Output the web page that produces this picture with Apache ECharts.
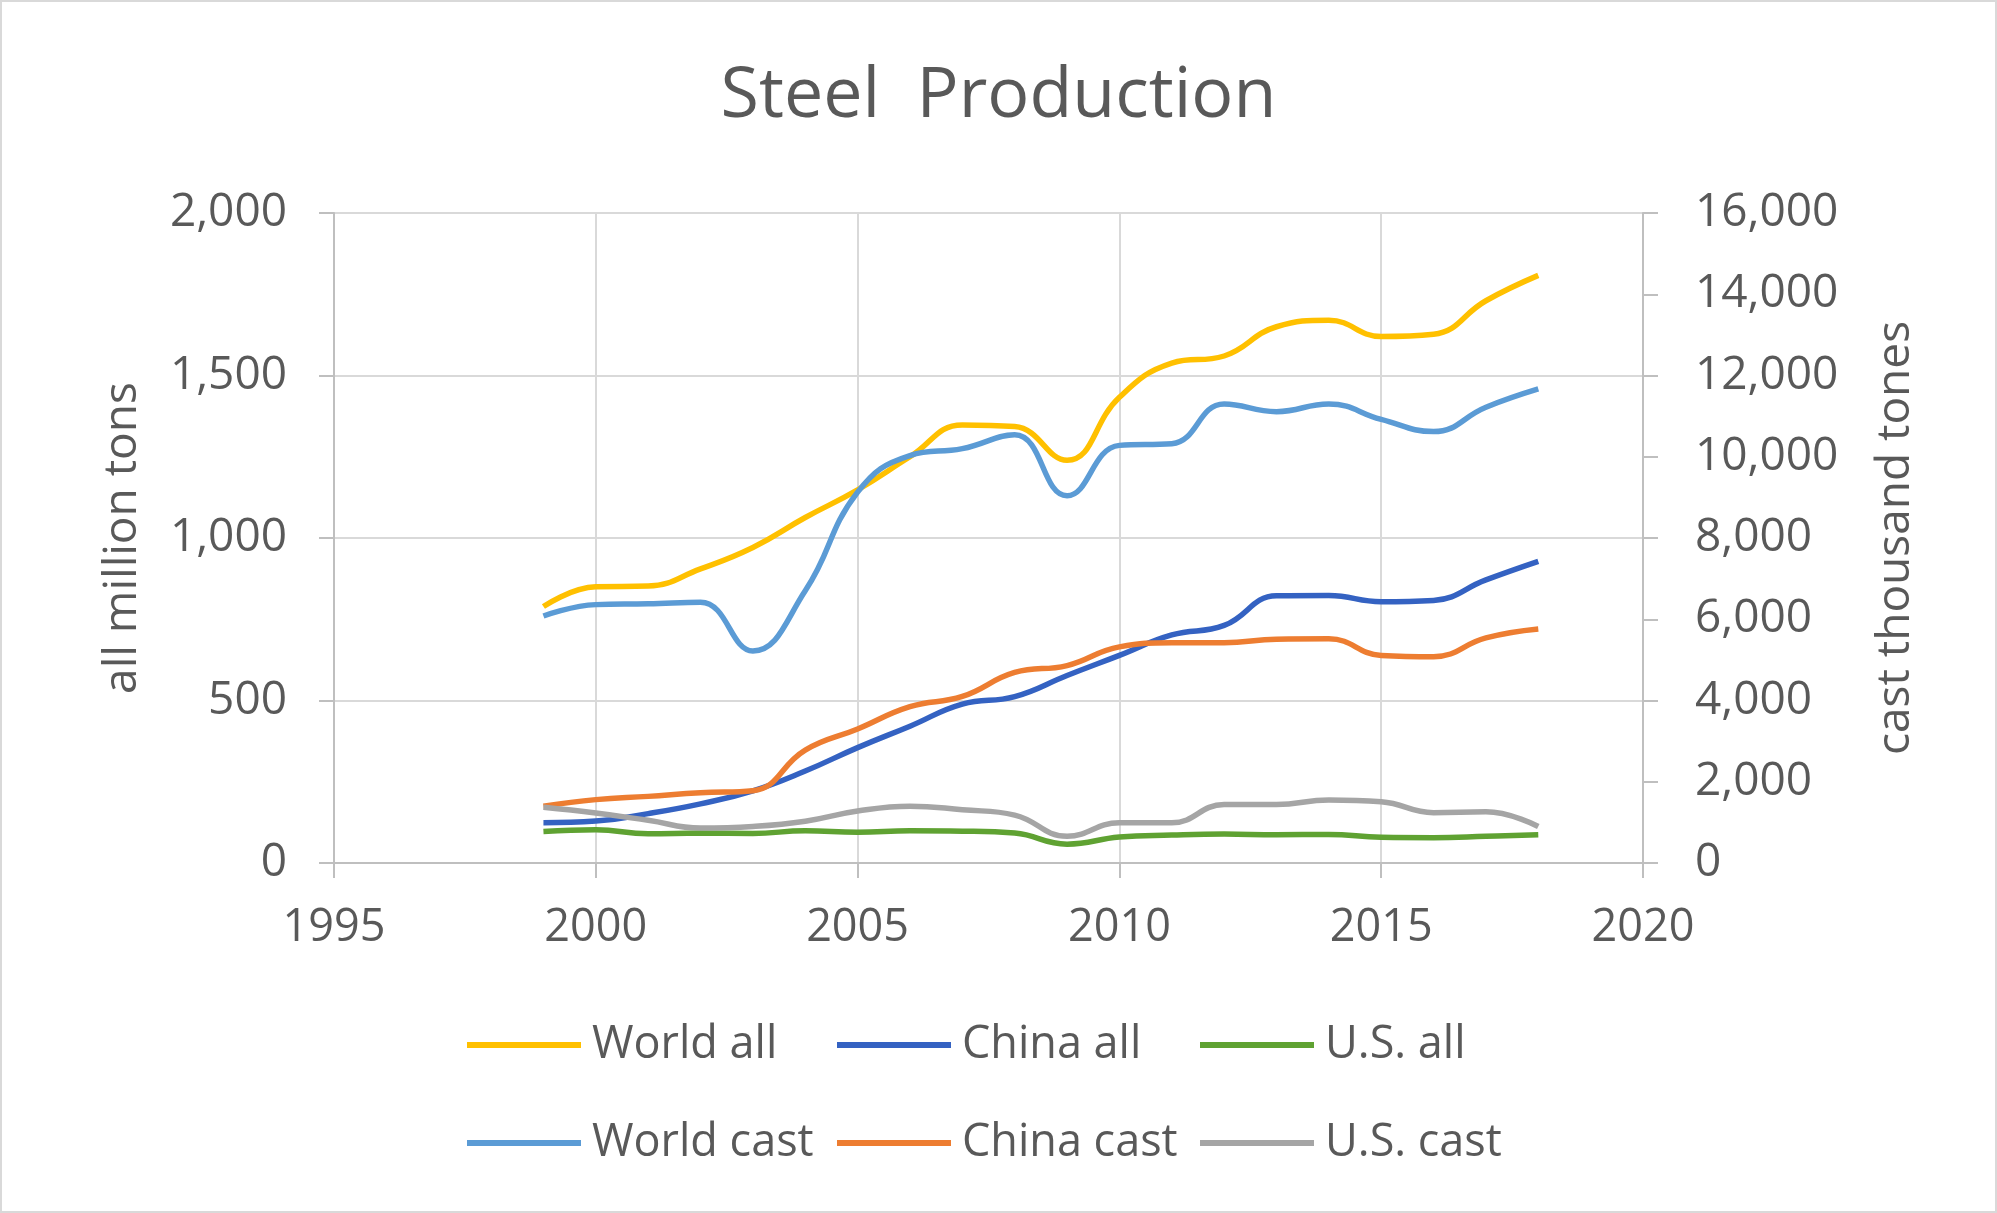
<!DOCTYPE html>
<html>
<head>
<meta charset="utf-8">
<script src="https://cdn.jsdelivr.net/npm/echarts@6/dist/echarts.min.js"></script>
<style>
html,body{margin:0;padding:0;background:#fff;}
#wrap{position:absolute;left:0;top:0;width:1993px;height:1209px;border:2px solid #d9d9d9;}
#chart{width:1993px;height:1209px;}
</style>
</head>
<body>
<div id="wrap"><div id="chart"></div></div>
<script>
const years = [1999,2000,2001,2002,2003,2004,2005,2006,2007,2008,2009,2010,2011,2012,2013,2014,2015,2016,2017,2018];
const worldAll = [789,850,852,905,971,1063,1148,1250,1348,1343,1239,1433,1538,1560,1650,1670,1620,1627,1730,1808];
const chinaAll = [124,129,152,182,222,283,355,421,489,512,577,639,702,731,822,823,804,808,871,928];
const usAll = [97,102,90,92,91,99,95,99,98,92,58,80,86,89,87,88,79,78,82,87];
const worldCast = [6080,6360,6380,6420,5220,6700,9130,10030,10200,10540,9040,10280,10320,11300,11110,11300,10920,10620,11220,11670];
const chinaCast = [1400,1560,1640,1730,1780,2780,3300,3850,4100,4690,4860,5320,5420,5420,5510,5520,5110,5080,5540,5760];
const usCast = [1370,1230,1050,860,900,1030,1280,1400,1310,1180,660,990,990,1440,1440,1550,1510,1240,1260,900];
const xTicks = [1995,2000,2005,2010,2015,2020];
const leftTicks = [0,500,1000,1500,2000];
const rightTicks = [0,2000,4000,6000,8000,10000,12000,14000,16000];

const FONT = '"Open Sans", "Noto Sans", sans-serif';
const TXT = '#595959';
const pairs = arr => years.map((y,i)=>[y,arr[i]]);
const fmt = v => Number(v).toLocaleString('en-US');

function mk(name, data, color, yIdx){
  return {name, type:'line', yAxisIndex:yIdx, data:pairs(data), smooth:0.45,
    symbol:'none', lineStyle:{width:5.5, color}, itemStyle:{color}, z: 3};
}
const legendCommon = {orient:'vertical', top:1013, itemGap:48, itemWidth:114, itemHeight:6, icon:'rect',
  textStyle:{fontFamily:FONT, fontSize:45, color:TXT, lineHeight:50, padding:[0,0,0,6]}};

const chart = echarts.init(document.getElementById('chart'));
chart.setOption({
  backgroundColor:'#fff',
  animation:false,
  title:{text:'Steel  Production', left:'center', top:55,
    textStyle:{fontFamily:FONT, fontSize:70, fontWeight:'normal', color:TXT}},
  grid:{left:332, right:352, top:211, bottom:348},
  xAxis:{type:'value', min:xTicks[0], max:xTicks[xTicks.length-1], interval:5,
    axisLine:{show:true, lineStyle:{color:'#bfbfbf', width:2}},
    axisTick:{show:true, length:15, lineStyle:{color:'#bfbfbf', width:2}},
    axisLabel:{fontFamily:FONT, fontSize:45, color:TXT, margin:43, formatter:v=>String(v)},
    splitLine:{show:true, lineStyle:{color:'#d9d9d9', width:2}}},
  yAxis:[
    {type:'value', min:leftTicks[0], max:leftTicks[leftTicks.length-1], interval:500, position:'left',
     name:'all million tons', nameLocation:'middle', nameGap:188, nameRotate:90,
     nameTextStyle:{fontFamily:FONT, fontSize:46, color:TXT},
     axisLine:{show:true, lineStyle:{color:'#bfbfbf', width:2}},
     axisTick:{show:true, length:15, lineStyle:{color:'#bfbfbf', width:2}},
     axisLabel:{fontFamily:FONT, fontSize:46, color:TXT, margin:47, formatter:fmt},
     splitLine:{show:true, lineStyle:{color:'#d9d9d9', width:2}}},
    {type:'value', min:rightTicks[0], max:rightTicks[rightTicks.length-1], interval:2000, position:'right',
     name:'cast thousand tones', nameLocation:'middle', nameGap:230, nameRotate:90,
     nameTextStyle:{fontFamily:FONT, fontSize:46, color:TXT},
     axisLine:{show:true, lineStyle:{color:'#bfbfbf', width:2}},
     axisTick:{show:true, length:15, lineStyle:{color:'#bfbfbf', width:2}},
     axisLabel:{fontFamily:FONT, fontSize:46, color:TXT, margin:52, formatter:fmt},
     splitLine:{show:false}}
  ],
  legend:[
    Object.assign({left:460, data:['World all','World cast']}, legendCommon),
    Object.assign({left:830, data:['China all','China cast']}, legendCommon),
    Object.assign({left:1193, data:['U.S. all','U.S. cast']}, legendCommon)
  ],
  series:[
    mk('World all', worldAll, '#FFC000', 0),
    mk('China all', chinaAll, '#3462C2', 0),
    mk('U.S. all', usAll, '#5FA232', 0),
    mk('World cast', worldCast, '#5B9BD5', 1),
    mk('China cast', chinaCast, '#ED7D31', 1),
    mk('U.S. cast', usCast, '#A5A5A5', 1)
  ]
});
</script>
</body>
</html>
